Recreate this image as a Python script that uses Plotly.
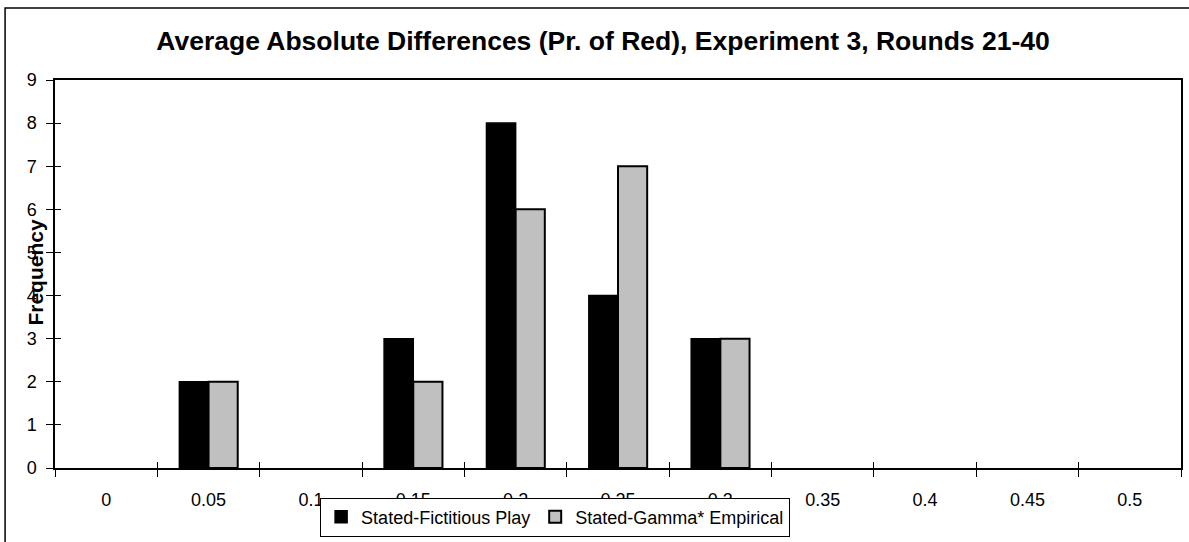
import plotly.graph_objects as go

categories = ["0", "0.05", "0.1", "0.15", "0.2", "0.25", "0.3", "0.35", "0.4", "0.45", "0.5"]
fictitious = [0, 2, 0, 3, 8, 4, 3, 0, 0, 0, 0]
gamma = [0, 2, 0, 2, 6, 7, 3, 0, 0, 0, 0]

W, H = 1189, 542
L, R, T, B = 55, 6, 80, 74
pw, ph = W - L - R, H - T - B

def px_x(x):
    return (x - L) / pw

def px_y(y):
    return 1 - (y - T) / ph

def nonzero(vals):
    # zero-height bars would draw their outline over the axis line
    return [v if v else None for v in vals]

fig = go.Figure()
fig.add_trace(go.Bar(
    x=categories, y=nonzero(fictitious), name="Stated-Fictitious Play",
    marker=dict(color="#000000", line=dict(color="#000000", width=1.5)),
))
fig.add_trace(go.Bar(
    x=categories, y=nonzero(gamma), name="Stated-Gamma* Empirical",
    marker=dict(color="#C0C0C0", line=dict(color="#000000", width=2)),
))
# invisible trace on overlay axes, only to get tick marks crossing the axis lines
fig.add_trace(go.Scatter(
    x=categories, y=fictitious, xaxis="x2", yaxis="y2", mode="markers",
    marker=dict(opacity=0), showlegend=False, hoverinfo="skip",
))

fig.update_layout(
    width=W, height=H,
    margin=dict(l=L, r=R, t=T, b=B),
    paper_bgcolor="white", plot_bgcolor="white",
    font=dict(family="Arial, Liberation Sans", size=18, color="black"),
    barmode="group", bargap=0.43, bargroupgap=0,
    title=dict(text="<b>Average Absolute Differences (Pr. of Red), Experiment 3, Rounds 21-40</b>",
               x=px_x(604), xanchor="center", xref="paper", y=1 - 41 / H, yanchor="middle",
               font=dict(size=26.5, color="black")),
    showlegend=True,
    legend=dict(orientation="h", x=px_x(556), xanchor="center", y=px_y(517), yanchor="middle",
                bgcolor="white", bordercolor="black", borderwidth=1,
                font=dict(size=18), itemwidth=30, tracegroupgap=0),
    xaxis=dict(type="category", range=[-0.5, 10.5], tickson="boundaries", ticks="outside",
               ticklen=7, tickcolor="black", showline=True, linecolor="black", linewidth=1.5,
               mirror=True, showgrid=False, tickfont=dict(size=18), ticklabelstandoff=15),
    yaxis=dict(range=[0, 9], dtick=1, ticks="outside", ticklen=7, tickcolor="black",
               showline=True, linecolor="black", linewidth=1.5, mirror=True,
               showgrid=False, zeroline=False, tickfont=dict(size=18), ticklabelstandoff=6),
    xaxis2=dict(overlaying="x", anchor="y2", type="category", range=[-0.5, 10.5],
                tickson="boundaries", ticks="inside", ticklen=6, tickcolor="black",
                showticklabels=False, showgrid=False, showline=False),
    yaxis2=dict(overlaying="y", anchor="x2", range=[0, 9], dtick=1, ticks="inside",
                ticklen=6, tickcolor="black", showticklabels=False, showgrid=False,
                zeroline=False, showline=False),
)
fig.add_annotation(
    text="<b>Frequency</b>", textangle=-90, xref="paper", yref="paper",
    x=px_x(21), y=px_y(272), showarrow=False, font=dict(size=21),
)
fig.add_shape(
    type="rect", xref="paper", yref="paper",
    x0=px_x(5), x1=px_x(W + 10), y0=px_y(8), y1=px_y(H + 10),
    line=dict(color="black", width=1.5), layer="below",
)

fig.write_html("out.html", config=dict(displayModeBar=False),
               post_script="document.body.style.margin='0px';")
